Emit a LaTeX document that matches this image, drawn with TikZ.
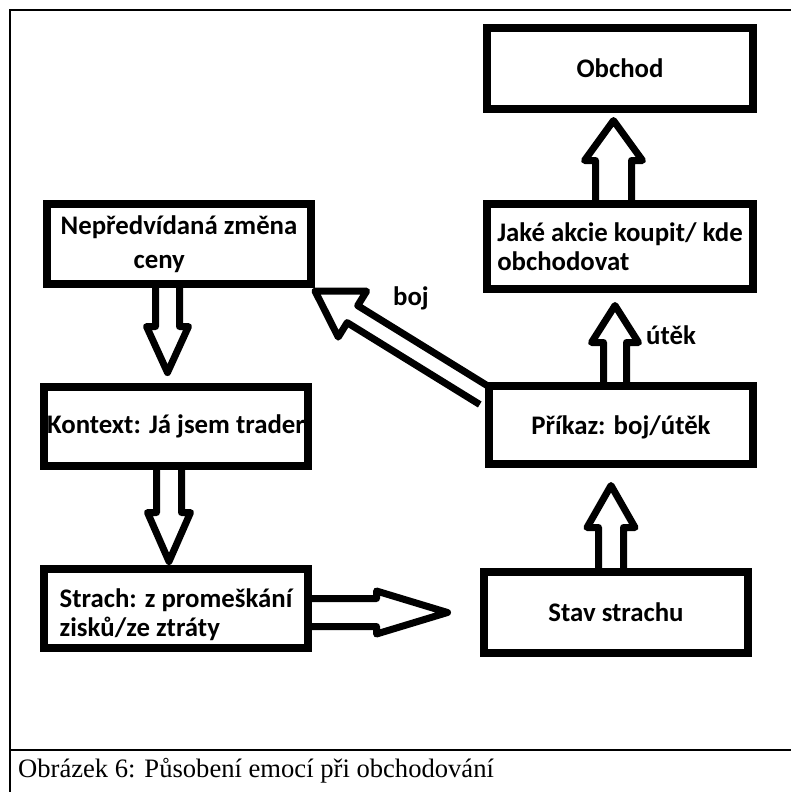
\documentclass[tikz,border=0pt]{standalone}
\usepackage{fontspec}
\setmainfont{Liberation Serif}
\newfontfamily\boxfont{Carlito}
\usetikzlibrary{positioning,calc}

% hollow block arrow: from, to, shaft half width, head half width, head length
\newcommand{\fatarrow}[5]{%
    \coordinate (fa-h) at ($(#2)!#5!(#1)$);
    \draw[hollow] ($(#1)!#3!90:(#2)$) -- ($(fa-h)!#3!90:(#2)$) -- ($(fa-h)!#4!90:(#2)$)
        -- (#2) -- ($(fa-h)!#4!-90:(#2)$) -- ($(fa-h)!#3!-90:(#2)$) -- ($(#1)!#3!-90:(#2)$);
}

\begin{document}
\begin{tikzpicture}[
    x=1pt, y=-1pt,
    block/.style={rectangle, draw, line width=8pt, inner sep=0pt, minimum width=264pt,
        font=\boxfont\bfseries\fontsize{26.8}{29}\selectfont},
    hollow/.style={line width=7pt, line join=round},
    tag/.style={font=\boxfont\bfseries\fontsize{26.8}{29}\selectfont},
    frame/.style={line width=2pt},
]
    \useasboundingbox (0,0) rectangle (791,792);

    % right column
    \node[block, minimum width=266pt, minimum height=81pt] (obchod) at (620,68.5) {Obchod};
    \node[block, minimum width=266pt, minimum height=85pt, align=left] (jake) at (620,246.5)
        {Jaké akcie koupit/ kde\\obchodovat};
    \node[block, minimum height=78pt] (prikaz) at (621,425) {\rule{0pt}{24pt}Příkaz: boj/útěk};
    \node[block, minimum height=81pt] (stav) at (616,612.5) {Stav strachu};

    % left column
    \node[block, minimum height=80pt, align=left] (nep) at (179,244)
        {Nepředvídaná změna\\[5pt]\hspace*{73pt}ceny};
    \node[block, minimum height=79pt] (kontext) at (176,426.5) {Kontext: Já jsem trader};
    \node[block, minimum height=79pt, align=left] (strach) at (176,608.5)
        {\rule{0pt}{32pt}Strach: z promeškání\\zisků/ze ztráty};

    % arrow ends
    \coordinate (a1) at ([xshift=-6.5pt]jake.north);
    \coordinate (b1) at ([xshift=-6.5pt, yshift=-7.5pt]obchod.south);
    \coordinate (a2) at ([xshift=-11.5pt]nep.south);
    \coordinate (b2) at ([xshift=-8.5pt, yshift=10.5pt]kontext.north);
    \coordinate (a3) at ([xshift=-7pt]kontext.south);
    \coordinate (b3) at ([xshift=-7pt, yshift=3.5pt]strach.north);
    \coordinate (a4) at ([yshift=-4pt]strach.east);
    \coordinate (b4) at ([xshift=-32.5pt]stav.west);
    \coordinate (a5) at ([xshift=-5pt]stav.north);
    \coordinate (b5) at ([xshift=-10pt, yshift=-17.5pt]prikaz.south);
    \coordinate (a6) at ([xshift=-6pt]prikaz.north);
    \coordinate (b6) at ([xshift=-5pt, yshift=-12.5pt]jake.south);
    \coordinate (a7) at ([yshift=29pt]prikaz.west);
    \coordinate (b7) at ([yshift=-3pt]nep.south east);

    \fatarrow{a1}{b1}{18pt}{29pt}{40pt}
    \fatarrow{a2}{b2}{12pt}{21pt}{46pt}
    \fatarrow{a3}{b3}{12.5pt}{21.5pt}{49pt}
    \fatarrow{a4}{b4}{14pt}{21.5pt}{71pt}
    \fatarrow{a5}{b5}{12.5pt}{24pt}{42pt}
    \fatarrow{a6}{b6}{11.5pt}{23.5pt}{37pt}
    \fatarrow{a7}{b7}{10pt}{27pt}{44pt}

    \node[tag] (boj) at (411,298) {boj};
    \node[tag] (utek) at (671,335) {útěk};

    % frame and caption
    \draw[frame] (10,792) -- (10,10) -- (791,10);
    \draw[frame] (10,750) -- (791,750);
    \node[anchor=west, inner sep=0pt, font=\fontsize{26.6}{30}\selectfont] (caption) at (18,771)
        {Obrázek 6: Působení emocí při obchodování};
\end{tikzpicture}
\end{document}
